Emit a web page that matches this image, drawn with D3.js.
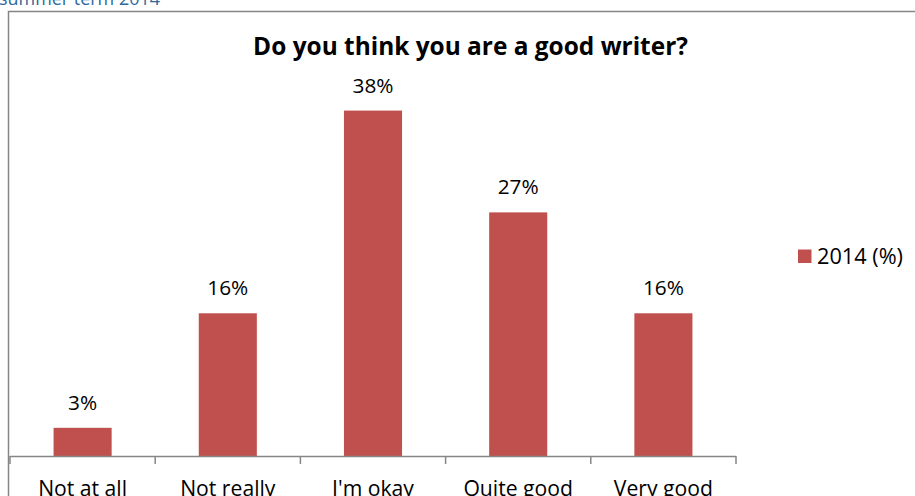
<!DOCTYPE html>
<html>
<head>
<meta charset="utf-8">
<script src="https://cdn.jsdelivr.net/npm/d3@7"></script>
<style>
html,body{margin:0;padding:0;background:#fff;overflow:hidden;}
svg{display:block;}
text{font-family:"Open Sans", sans-serif;}
</style>
</head>
<body>
<svg id="chart" width="915" height="496"></svg>
<script>
const categories = ["Not at all", "Not really", "I'm okay", "Quite good", "Very good"];
const values = [3.1, 15.7, 38.0, 26.8, 15.7];
const seriesName = "2014 (%)";
const chartTitle = "Do you think you are a good writer?";
const headerText = "summer term 2014";

const svg = d3.select("#chart");
const barColor = "#C0504D";
const axisColor = "#868686";

// scale a text's font size so that its width matches a target width
function fitWidth(sel, target) {
  sel.each(function () {
    const base = 20;
    d3.select(this).attr("font-size", base);
    const w = this.getComputedTextLength();
    if (w > 0) d3.select(this).attr("font-size", base * target / w);
  });
}

// header text (cropped at top)
const header = svg.append("text").attr("x", -1).attr("y", 5)
  .attr("fill", "#2E6A9E").text(headerText);
fitWidth(header, 161);

// frame
svg.append("rect").attr("x", 8.5).attr("y", 11.5).attr("width", 940).attr("height", 540)
  .attr("fill", "none").attr("stroke", axisColor).attr("stroke-width", 1.5);

const x = d3.scaleBand().domain(categories).range([10, 736]).paddingInner(0.6).paddingOuter(0.3);
const y = d3.scaleLinear().domain([0, 40]).range([456, 92.4]);

// title
const title = svg.append("text").attr("x", 470.5).attr("y", 55).attr("text-anchor", "middle")
  .attr("font-weight", "bold").attr("fill", "#000").text(chartTitle);
fitWidth(title, 435);

// bars
svg.selectAll("rect.bar").data(values).join("rect").attr("class", "bar")
  .attr("x", (d, i) => x(categories[i]))
  .attr("width", x.bandwidth())
  .attr("y", d => y(d))
  .attr("height", d => y(0) - y(d))
  .attr("fill", barColor);

// value labels
const fmt = d3.format(".0f");
const vals = svg.selectAll("text.val").data(values).join("text").attr("class", "val")
  .attr("x", (d, i) => x(categories[i]) + x.bandwidth() / 2)
  .attr("y", d => y(d) - 18)
  .attr("text-anchor", "middle").attr("fill", "#000")
  .text(d => fmt(d) + "%");
{
  const node = vals.nodes()[2];
  d3.select(node).attr("font-size", 20);
  const s = 20 * 41 / node.getComputedTextLength();
  vals.attr("font-size", s);
}

// x axis
const axisG = svg.append("g");
axisG.append("line").attr("x1", x.range()[0]).attr("x2", x.range()[1])
  .attr("y1", y(0) + 0.5).attr("y2", y(0) + 0.5)
  .attr("stroke", axisColor).attr("stroke-width", 1.5);
const step = x.step();
const boundaries = d3.range(categories.length + 1).map(i => x.range()[0] + i * step);
axisG.selectAll("line.tick").data(boundaries).join("line").attr("class", "tick")
  .attr("x1", d => d).attr("x2", d => d)
  .attr("y1", y(0)).attr("y2", y(0) + 8)
  .attr("stroke", axisColor).attr("stroke-width", 1.5);

const cats = svg.selectAll("text.cat").data(categories).join("text").attr("class", "cat")
  .attr("x", d => x(d) + x.bandwidth() / 2)
  .attr("y", 495.5)
  .attr("text-anchor", "middle").attr("fill", "#000")
  .text(d => d);
{
  const node = cats.nodes()[0];
  d3.select(node).attr("font-size", 20);
  const s = 20 * 89 / node.getComputedTextLength();
  cats.attr("font-size", s);
}

// legend
svg.append("rect").attr("x", 798).attr("y", 249.5).attr("width", 13.5).attr("height", 13.5).attr("fill", barColor);
const leg = svg.append("text").attr("x", 817).attr("y", 264).attr("fill", "#000").text(seriesName);
fitWidth(leg, 86);
</script>
</body>
</html>
